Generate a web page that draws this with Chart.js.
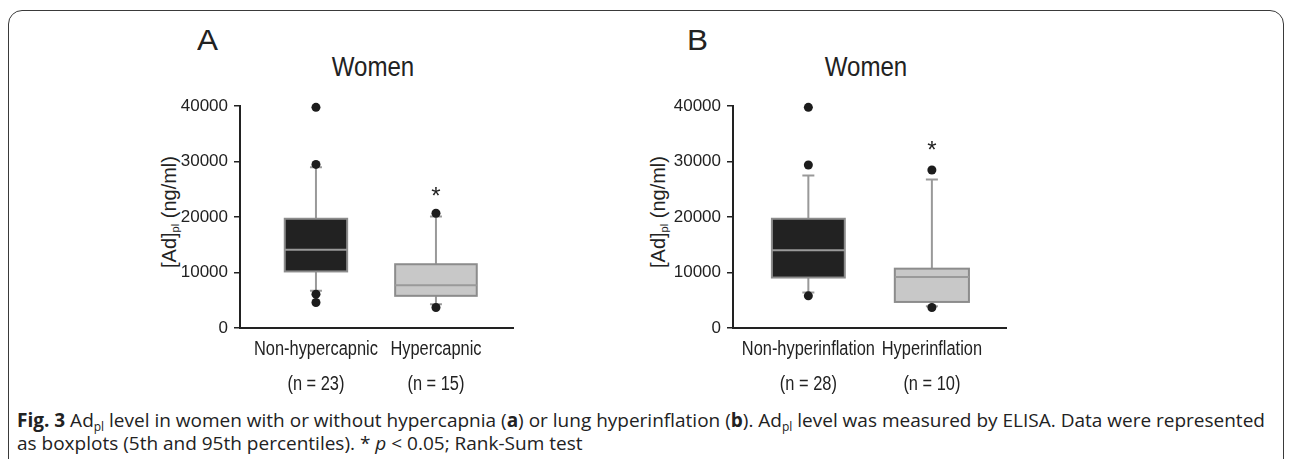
<!DOCTYPE html>
<html>
<head>
<meta charset="utf-8">
<script src="https://cdn.jsdelivr.net/npm/chart.js@4.4.1/dist/chart.umd.min.js"></script>
<style>
  body { margin: 0; width: 1292px; height: 459px; overflow: hidden; background: #fff; position: relative; font-family: Arial, "Liberation Sans", sans-serif; color: #222; }
  .frame { position: absolute; left: 8px; top: 10px; width: 1274px; height: 480px; border: 1.5px solid #3a3a3a; border-radius: 14px; }
  .t { position: absolute; line-height: 1; white-space: nowrap; }
  .ylab { position: absolute; line-height: 1; white-space: nowrap; font-size: 20px; transform: translate(-50%, -50%) rotate(-90deg); }
  .ylab sub { font-size: 11px; vertical-align: -3px; }
  canvas { position: absolute; }
  .cap { position: absolute; left: 17px; top: 409px; font-family: "Open Sans", "Noto Sans", sans-serif; font-size: 19px; line-height: 23px; color: #222; white-space: nowrap; }
  .cap sub { font-size: 12px; vertical-align: -4px; line-height: 0; }
</style>
</head>
<body>
<div class="frame"></div>

<div class="t" style="left:197px; top:25px; font-size:30px; transform:scaleX(1.05); transform-origin:left;">A</div>
<div class="t" style="left:373px; top:53px; font-size:28px; transform:translateX(-50%) scaleX(0.86);">Women</div>
<div class="ylab" style="left:170px; top:212px;">[Ad]<sub>pl</sub> (ng/ml)</div>
<canvas id="chartA" width="380" height="310" style="left:150px; top:90px;"></canvas>

<div class="t" style="left:687px; top:25px; font-size:30px; transform:scaleX(1.05); transform-origin:left;">B</div>
<div class="t" style="left:866px; top:53px; font-size:28px; transform:translateX(-50%) scaleX(0.86);">Women</div>
<div class="ylab" style="left:659px; top:212px;">[Ad]<sub>pl</sub> (ng/ml)</div>
<canvas id="chartB" width="380" height="310" style="left:643px; top:90px;"></canvas>

<div class="cap"><b>Fig. 3</b> Ad<sub>pl</sub> level in women with or without hypercapnia (<b>a</b>) or lung hyperinflation (<b>b</b>). Ad<sub>pl</sub> level was measured by ELISA. Data were represented<br>as boxplots (5th and 95th percentiles). * <i>p</i> &lt; 0.05; Rank-Sum test</div>

<script>
// panel A: hypercapnia
const groupsA = ['Non-hypercapnic', 'Hypercapnic'];
const countsA = ['(n = 23)', '(n = 15)'];
const q1A = [10200, 5800];
const medianA = [14100, 7700];
const q3A = [19700, 11500];
const lowA = [6700, 4300];
const highA = [29000, 20100];
const outliersA = [[39800, 29500, 6100, 4600], [20700, 3700]];
const starA = [null, 24300];

// panel B: hyperinflation
const groupsB = ['Non-hyperinflation', 'Hyperinflation'];
const countsB = ['(n = 28)', '(n = 10)'];
const q1B = [9100, 4700];
const medianB = [14000, 9200];
const q3B = [19700, 10700];
const lowB = [6400, 3900];
const highB = [27500, 26800];
const outliersB = [[39800, 29400, 5800], [28500, 3700]];
const starB = [null, 32500];

const yTicks = [0, 10000, 20000, 30000, 40000];

const boxPlugin = {
    id: 'boxes',
    beforeDatasetsDraw(chart, args, opts) {
        const ctx = chart.ctx;
        const x = chart.scales.x;
        const y = chart.scales.y;
        opts.q1.forEach((q1, i) => {
            const cx = x.getPixelForValue(i);
            const half = x.getPixelForValue(i + opts.widths[i] / 2) - cx;
            const cap = 6;
            const yq1 = y.getPixelForValue(q1);
            const yq3 = y.getPixelForValue(opts.q3[i]);
            const ymed = y.getPixelForValue(opts.median[i]);
            const ylo = y.getPixelForValue(opts.low[i]);
            const yhi = y.getPixelForValue(opts.high[i]);
            ctx.save();
            ctx.strokeStyle = '#999';
            ctx.lineWidth = 2;
            ctx.beginPath();
            ctx.moveTo(cx, yhi); ctx.lineTo(cx, yq3);
            ctx.moveTo(cx, yq1); ctx.lineTo(cx, ylo);
            ctx.moveTo(cx - cap, yhi); ctx.lineTo(cx + cap, yhi);
            ctx.moveTo(cx - cap, ylo); ctx.lineTo(cx + cap, ylo);
            ctx.stroke();
            ctx.fillStyle = opts.fills[i];
            ctx.fillRect(cx - half, yq3, half * 2, yq1 - yq3);
            ctx.strokeStyle = '#8c8c8c';
            ctx.strokeRect(cx - half, yq3, half * 2, yq1 - yq3);
            ctx.strokeStyle = '#9a9a9a';
            ctx.beginPath();
            ctx.moveTo(cx - half, ymed); ctx.lineTo(cx + half, ymed);
            ctx.stroke();
            ctx.restore();
        });
    },
    afterDatasetsDraw(chart, args, opts) {
        const ctx = chart.ctx;
        const x = chart.scales.x;
        opts.stars.forEach((v, i) => {
            if (v === null) return;
            ctx.save();
            ctx.fillStyle = '#222';
            ctx.font = '24px Arial';
            ctx.textAlign = 'center';
            ctx.textBaseline = 'middle';
            ctx.fillText('*', x.getPixelForValue(i), chart.scales.y.getPixelForValue(v) + 4);
            ctx.restore();
        });
        // category labels, a bit condensed like the original figure
        opts.groups.forEach((g, i) => {
            const px = x.getPixelForValue(i);
            ctx.save();
            ctx.fillStyle = '#222';
            ctx.font = '20px Arial';
            ctx.textAlign = 'center';
            ctx.textBaseline = 'middle';
            ctx.translate(px, x.top);
            ctx.scale(0.82, 1);
            ctx.fillText(g, 0, 21);
            ctx.fillText(opts.counts[i], 0, 56);
            ctx.restore();
        });
    }
};

function makeChart(id, groups, counts, q1, median, q3, low, high, outliers, stars, xMin, xMax, widths) {
    const points = [];
    outliers.forEach((list, i) => list.forEach(v => points.push({ x: i, y: v })));

    new Chart(document.getElementById(id), {
        type: 'scatter',
        data: {
            datasets: [{
                data: points,
                backgroundColor: '#1c1c1c',
                borderWidth: 0,
                pointRadius: 4.5,
                clip: false,
            }],
        },
        options: {
            responsive: false,
            animation: false,
            layout: { padding: { left: 0, right: 17, top: 9, bottom: 0 } },
            plugins: {
                legend: { display: false },
                tooltip: { enabled: false },
                boxes: { q1, median, q3, low, high, stars, widths, groups, counts, fills: ['#222222', '#c8c8c8'] },
            },
            scales: {
                x: {
                    type: 'linear',
                    min: xMin,
                    max: xMax,
                    afterBuildTicks: scale => { scale.ticks = [{ value: 0 }, { value: 1 }]; },
                    afterFit: scale => { scale.height = 72; },
                    ticks: { display: false },
                    grid: { display: true, drawOnChartArea: false, drawTicks: false },
                    border: { display: true, color: '#222', width: 2 },
                },
                y: {
                    min: 0,
                    max: 40000,
                    afterBuildTicks: scale => { scale.ticks = yTicks.map(v => ({ value: v })); },
                    afterFit: scale => { scale.width = 90; },
                    ticks: {
                        callback: v => String(v),
                        color: '#222',
                        font: { family: 'Arial', size: 17 },
                        padding: 6,
                    },
                    grid: { display: true, drawOnChartArea: false, drawTicks: true, tickLength: 6, color: '#222', lineWidth: 1.5 },
                    border: { display: true, color: '#222', width: 2 },
                },
            },
        },
        plugins: [boxPlugin],
    });
}

makeChart('chartA', groupsA, countsA, q1A, medianA, q3A, lowA, highA, outliersA, starA, -0.633, 1.642, [0.52, 0.68]);
makeChart('chartB', groupsB, countsB, q1B, medianB, q3B, lowB, highB, outliersB, starB, -0.61, 1.60, [0.59, 0.60]);
</script>
</body>
</html>
